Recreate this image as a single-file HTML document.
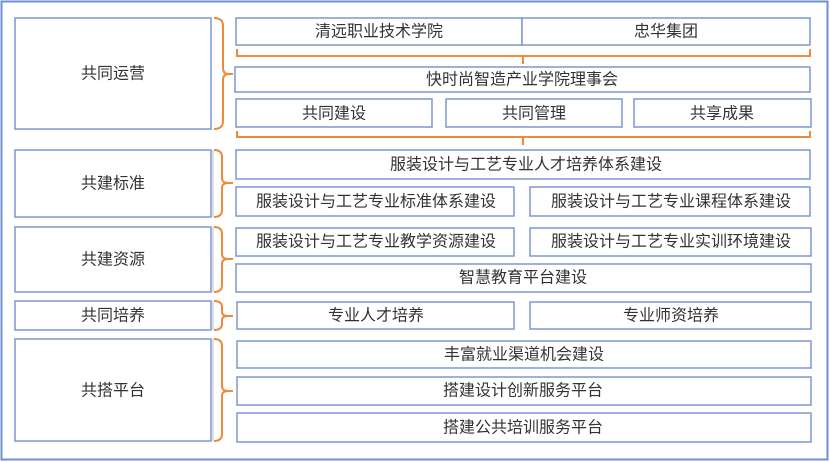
<!DOCTYPE html>
<html><head><meta charset="utf-8"><style>
html,body{margin:0;padding:0;background:#fff;}
svg{display:block;}
text{font-family:"Liberation Sans","Noto Sans CJK SC",sans-serif;font-size:16px;fill:#333;text-anchor:middle;dominant-baseline:central;}
.b{fill:#fff;stroke:#7b97d0;stroke-width:1.5;}
.o{fill:none;stroke:#ee8a3c;stroke-width:2;}
</style></head><body>
<svg width="830" height="462" viewBox="0 0 830 462" xmlns="http://www.w3.org/2000/svg">
<rect x="0" y="0" width="830" height="462" fill="#fff"/>
<rect x="1.5" y="1.5" width="826" height="458" fill="#fff" stroke="#6f8fd3" stroke-width="2"/>

<!-- left boxes -->
<rect class="b" x="15" y="18" width="196" height="111"/>
<rect class="b" x="15" y="150" width="196" height="67"/>
<rect class="b" x="15" y="227" width="196" height="65"/>
<rect class="b" x="15" y="301" width="196" height="29"/>
<rect class="b" x="15" y="339" width="196" height="102"/>
<g stroke="#b9c0cc" stroke-width="1">
<line x1="213" y1="150" x2="213" y2="217"/>
<line x1="213" y1="227" x2="213" y2="292"/>
<line x1="213" y1="301" x2="213" y2="330"/>
<line x1="213" y1="339" x2="213" y2="441"/>
</g>
<text x="113" y="74">共同运营</text>
<text x="113" y="184">共建标准</text>
<text x="113" y="260">共建资源</text>
<text x="113" y="316">共同培养</text>
<text x="113" y="391">共搭平台</text>

<!-- braces -->
<path class="o" d="M214,18 Q223,18 223,26 L223,68 Q223,74 229,74 L233,74 M229,74 Q223,74 223,80 L223,121 Q223,129 214,129"/>
<path class="o" d="M214,150 Q222,150 222,157 L222,178 Q222,183 228,183 L233,183 M228,183 Q222,183 222,188 L222,210 Q222,217 214,217"/>
<path class="o" d="M214,227 Q222,227 222,234 L222,254 Q222,259 228,259 L233,259 M228,259 Q222,259 222,264 L222,285 Q222,292 214,292"/>
<path class="o" d="M214,301 Q222,301 222,307 L222,312 Q222,316 228,316 L233,316 M228,316 Q222,316 222,320 L222,324 Q222,330 214,330"/>
<path class="o" d="M214,339 Q222,339 222,346 L222,386 Q222,391 228,391 L233,391 M228,391 Q222,391 222,396 L222,434 Q222,441 214,441"/>

<!-- top brackets -->
<path class="o" d="M237,49 L237,56 L810,56 L810,49 M523,56 L523,64"/>
<path class="o" d="M237,131 L237,137 L810,137 L810,131 M523,137 L523,145"/>

<!-- right boxes -->
<rect class="b" x="236" y="18" width="286" height="27"/>
<rect class="b" x="522" y="18" width="288" height="27"/>
<text x="379" y="32">清远职业技术学院</text>
<text x="666" y="32">忠华集团</text>

<rect class="b" x="235" y="67" width="575" height="25"/>
<text x="522" y="80">快时尚智造产业学院理事会</text>

<rect class="b" x="236" y="99" width="196" height="28"/>
<rect class="b" x="446" y="99" width="176" height="28"/>
<rect class="b" x="634" y="99" width="177" height="28"/>
<text x="334" y="114">共同建设</text>
<text x="534" y="114">共同管理</text>
<text x="722" y="114">共享成果</text>

<rect class="b" x="236" y="150" width="574" height="29"/>
<text x="526" y="165">服装设计与工艺专业人才培养体系建设</text>
<rect class="b" x="236" y="187" width="278" height="29"/>
<rect class="b" x="530" y="187" width="280" height="29"/>
<text x="376" y="202">服装设计与工艺专业标准体系建设</text>
<text x="671" y="202">服装设计与工艺专业课程体系建设</text>

<rect class="b" x="236" y="228" width="278" height="28"/>
<rect class="b" x="530" y="228" width="281" height="28"/>
<text x="376" y="242">服装设计与工艺专业教学资源建设</text>
<text x="671" y="242">服装设计与工艺专业实训环境建设</text>
<rect class="b" x="236" y="264" width="575" height="28"/>
<text x="523" y="278">智慧教育平台建设</text>

<rect class="b" x="237" y="302" width="277" height="27"/>
<rect class="b" x="530" y="302" width="281" height="27"/>
<text x="376" y="316">专业人才培养</text>
<text x="671" y="316">专业师资培养</text>

<rect class="b" x="237" y="341" width="574" height="27"/>
<text x="524" y="355">丰富就业渠道机会建设</text>
<rect class="b" x="237" y="377" width="574" height="28"/>
<text x="523" y="391">搭建设计创新服务平台</text>
<rect class="b" x="237" y="413" width="574" height="29"/>
<text x="523" y="428">搭建公共培训服务平台</text>
</svg>
</body></html>
